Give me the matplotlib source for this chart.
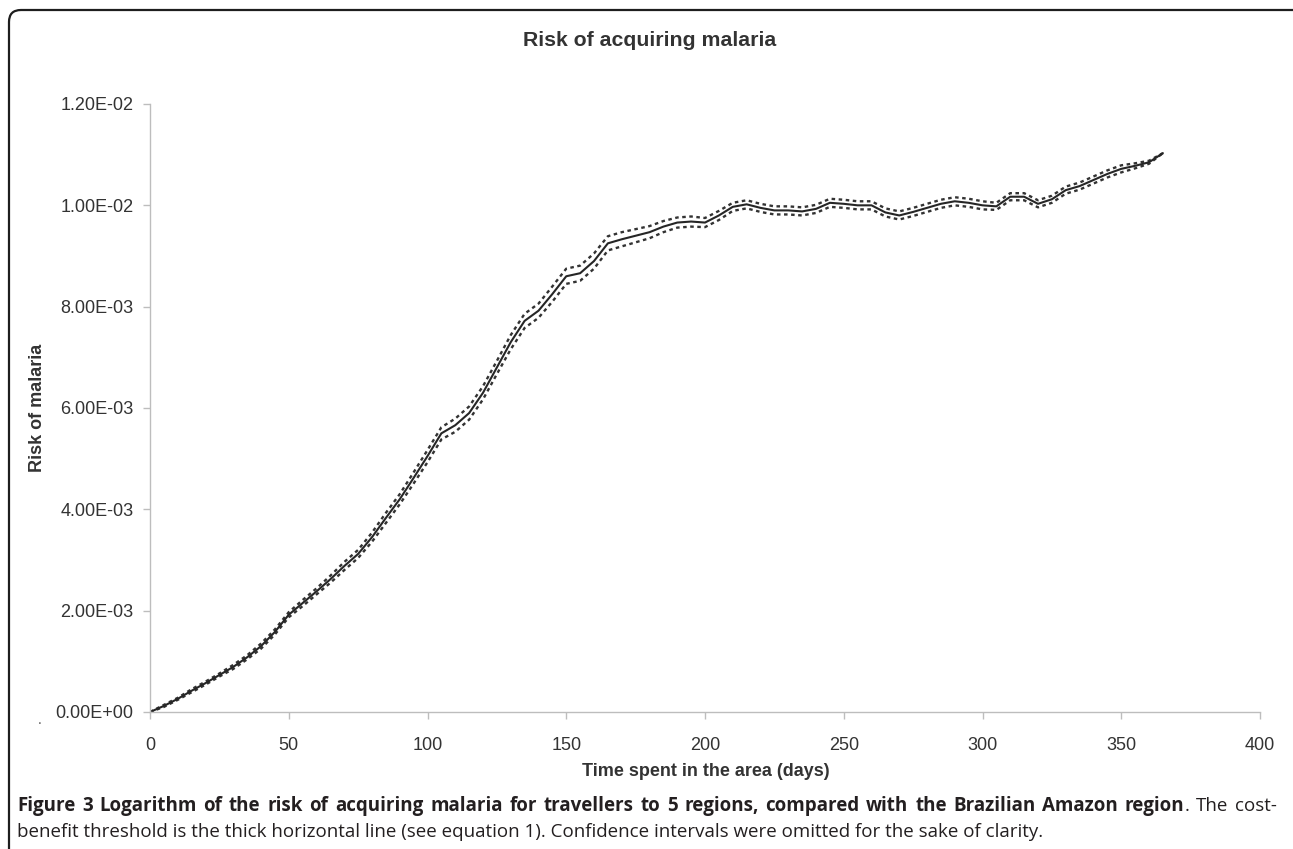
import matplotlib
matplotlib.use("Agg")
import matplotlib.pyplot as plt
from matplotlib.patches import FancyBboxPatch

# ---------------- data ----------------
days = [0, 5, 10, 15, 20, 25, 30, 35, 40, 45, 50, 55, 60, 65, 70, 75, 80, 85, 90, 95,
        100, 105, 110, 115, 120, 125, 130, 135, 140, 145, 150, 155, 160, 165, 170, 175,
        180, 185, 190, 195, 200, 205, 210, 215, 220, 225, 230, 235, 240, 245, 250, 255,
        260, 265, 270, 275, 280, 285, 290, 295, 300, 305, 310, 315, 320, 325, 330, 335,
        340, 345, 350, 355, 360, 365]

# risk values in units of 1e-3
risk_e3 = [0.00, 0.12, 0.26, 0.42, 0.57, 0.73, 0.89, 1.08, 1.30, 1.58, 1.92, 2.15, 2.38,
           2.62, 2.88, 3.12, 3.45, 3.83, 4.20, 4.62, 5.05, 5.50, 5.66, 5.90, 6.30, 6.80,
           7.30, 7.72, 7.92, 8.25, 8.60, 8.66, 8.90, 9.25, 9.33, 9.40, 9.47, 9.58, 9.66,
           9.68, 9.66, 9.80, 9.97, 10.02, 9.95, 9.90, 9.90, 9.88, 9.93, 10.05, 10.03,
           10.00, 10.00, 9.86, 9.80, 9.87, 9.95, 10.03, 10.08, 10.05, 10.00, 9.98, 10.17,
           10.17, 10.03, 10.12, 10.30, 10.38, 10.50, 10.62, 10.72, 10.78, 10.85, 11.03]

lower_e3 = [0.00, 0.10, 0.24, 0.39, 0.54, 0.70, 0.85, 1.04, 1.25, 1.53, 1.87, 2.09, 2.32,
            2.55, 2.80, 3.04, 3.36, 3.73, 4.10, 4.51, 4.93, 5.38, 5.53, 5.77, 6.17, 6.67,
            7.16, 7.58, 7.78, 8.10, 8.45, 8.51, 8.75, 9.11, 9.19, 9.27, 9.35, 9.47, 9.56,
            9.58, 9.57, 9.71, 9.89, 9.94, 9.87, 9.82, 9.82, 9.80, 9.85, 9.97, 9.95,
            9.92, 9.92, 9.78, 9.72, 9.79, 9.87, 9.95, 10.00, 9.97, 9.92, 9.91, 10.10,
            10.10, 9.96, 10.05, 10.23, 10.31, 10.43, 10.55, 10.65, 10.73, 10.82, 11.03]

upper_e3 = [0.00, 0.14, 0.28, 0.45, 0.60, 0.76, 0.93, 1.12, 1.35, 1.63, 1.97, 2.21, 2.44,
            2.69, 2.96, 3.20, 3.54, 3.93, 4.30, 4.73, 5.17, 5.62, 5.79, 6.03, 6.43, 6.93,
            7.44, 7.86, 8.06, 8.40, 8.75, 8.81, 9.05, 9.39, 9.47, 9.53, 9.59, 9.69, 9.76,
            9.78, 9.75, 9.89, 10.05, 10.10, 10.03, 9.98, 9.98, 9.96, 10.01, 10.13, 10.11,
            10.08, 10.08, 9.94, 9.88, 9.95, 10.03, 10.11, 10.16, 10.13, 10.08, 10.05, 10.24,
            10.24, 10.10, 10.19, 10.37, 10.45, 10.57, 10.69, 10.79, 10.83, 10.88, 11.03]

x_ticks = [0, 50, 100, 150, 200, 250, 300, 350, 400]
y_ticks = [0.0, 0.002, 0.004, 0.006, 0.008, 0.010, 0.012]
y_tick_labels = ["0.00E+00", "2.00E-03", "4.00E-03", "6.00E-03", "8.00E-03",
                 "1.00E-02", "1.20E-02"]

title = "Risk of acquiring malaria"
x_label = "Time spent in the area (days)"
y_label = "Risk of malaria"
caption_bold = ("Figure 3 Logarithm of the risk of acquiring malaria for travellers to 5 "
                "regions, compared with the Brazilian Amazon region")
caption_rest1 = ". The cost-"
caption_line2 = ("benefit threshold is the thick horizontal line (see equation 1). "
                 "Confidence intervals were omitted for the sake of clarity.")

# ---------------- figure ----------------
W, H = 1293, 849
fig = plt.figure(figsize=(W / 100, H / 100), dpi=100)
fig.patch.set_facecolor("white")

chart_font = ["Liberation Sans", "DejaVu Sans"]
cap_font = ["Open Sans", "DejaVu Sans"]

ax = fig.add_axes([150 / W, (H - 712) / H, 1110 / W, 608 / H])
scale = 1e-3
ax.plot(days, [v * scale for v in lower_e3], color="#333333", lw=1.7,
        linestyle=(0, (1.5, 1.5)))
ax.plot(days, [v * scale for v in upper_e3], color="#333333", lw=1.7,
        linestyle=(0, (1.5, 1.5)))
ax.plot(days, [v * scale for v in risk_e3], color="#262626", lw=1.5, solid_capstyle="round")

ax.set_xlim(0, 400)
ax.set_ylim(0, 0.012)
ax.set_xticks(x_ticks)
ax.set_xticklabels([str(t) for t in x_ticks], fontfamily=chart_font)
ax.set_yticks(y_ticks)
ax.set_yticklabels(y_tick_labels, fontfamily=chart_font)
for side in ("top", "right"):
    ax.spines[side].set_visible(False)
for side in ("left", "bottom"):
    ax.spines[side].set_color("#bdbdbd")
    ax.spines[side].set_linewidth(1.0)
ax.tick_params(axis="y", length=5, width=1, color="#bdbdbd", pad=7,
               labelsize=13, labelcolor="#333333")
ax.tick_params(axis="x", length=5, width=1, color="#bdbdbd", pad=13,
               labelsize=13, labelcolor="#333333")
ax.set_facecolor("white")

fig.text(650 / W, 1 - 40 / H, title, ha="center", va="center", fontsize=15.3,
         fontweight="bold", color="#333333", family=chart_font)
fig.text(706 / W, 1 - 772 / H, x_label, ha="center", va="center", fontsize=13,
         fontweight="bold", color="#333333", family=chart_font)
fig.text(38 / W, 1 - 408 / H, y_label, ha="center", va="center", rotation=90,
         fontsize=13, fontweight="bold", color="#333333", family=chart_font)
fig.text(40 / W, 1 - 720 / H, ".", ha="center", va="center", fontsize=10,
         color="#555555", family=chart_font)

# ---------------- caption (justified first line) ----------------
fig.canvas.draw()
r = fig.canvas.get_renderer()
cap_color = "#231f20"
left_px, right_px, line2_end = 17, 1277, 1048
base1, base2 = 811, 837

t_l2 = fig.text(left_px / W, 1 - base2 / H, caption_line2, fontsize=14, color=cap_color,
                family=cap_font, va="baseline", ha="left")
fs = 14 * (line2_end - left_px) / t_l2.get_window_extent(r).width
t_l2.set_fontsize(fs)

# tokens of line 1: (text, bold, glued to previous)
tokens = [(wd, True, False) for wd in caption_bold.split(" ")]
tokens.append((caption_rest1.split(" ")[0], False, True))
tokens += [(wd, False, False) for wd in caption_rest1.split(" ")[1:]]
arts = []
for txt, bold, glued in tokens:
    a = fig.text(0, 1 - base1 / H, txt, fontsize=fs, color=cap_color, family=cap_font,
                 fontweight="bold" if bold else "normal", va="baseline", ha="left")
    arts.append((a, glued))
widths = [a.get_window_extent(r).width for a, _ in arts]
n_gaps = sum(1 for _, g in arts[1:] if not g)
gap = (right_px - left_px - sum(widths)) / n_gaps
x = left_px
for i, ((a, glued), wdt) in enumerate(zip(arts, widths)):
    if i > 0 and not glued:
        x += gap
    a.set_x(x / W)
    x += wdt

# rounded frame (open at the right and bottom edges)
frame = FancyBboxPatch((9 / 100, -0.4), (W + 30) / 100, (H - 10) / 100 + 0.4,
                       boxstyle="round,pad=0,rounding_size=0.12",
                       transform=fig.dpi_scale_trans, fill=False,
                       edgecolor="#1e1e1e", linewidth=1.6)
fig.add_artist(frame)

fig.savefig("out.png", dpi=100, facecolor="white")
